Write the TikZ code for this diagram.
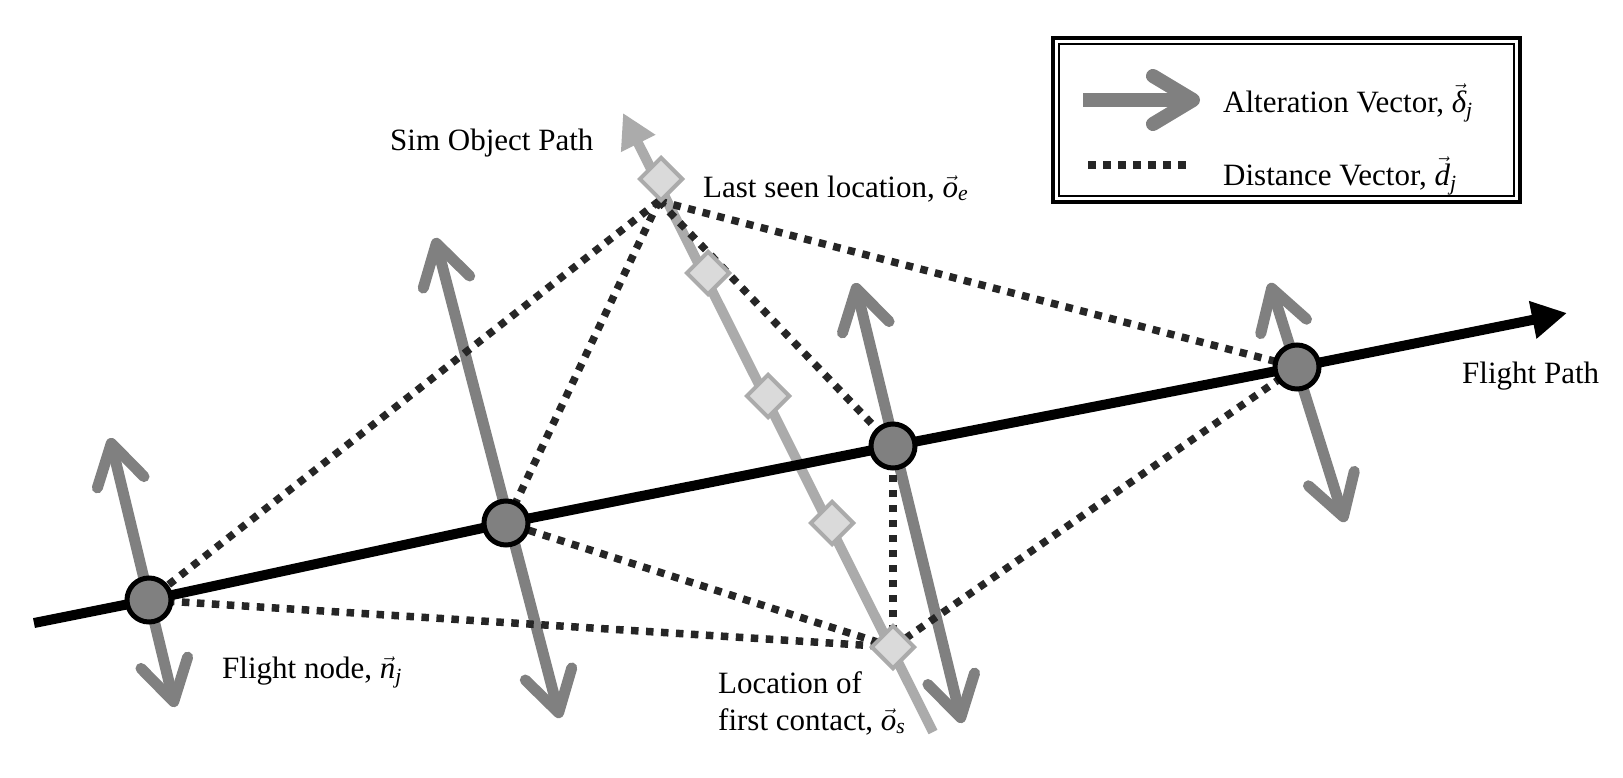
\documentclass[tikz,border=0pt]{standalone}
\usepackage{fontspec}
\usepackage{amsmath}
\setmainfont{Liberation Serif}
\usetikzlibrary{arrows.meta,shapes.geometric,calc}
\definecolor{altgray}{HTML}{808080}
\definecolor{simgray}{HTML}{ABABAB}
\definecolor{diafill}{HTML}{DADADA}
\definecolor{dotc}{HTML}{262626}
\newcommand{\myvec}[2]{$\vec{\textit{#1}}_{\textit{#2}}$}
\begin{document}
\begin{tikzpicture}[x=1pt,y=-1pt,
  fnode/.style={circle, fill=altgray, draw=black, line width=5pt, minimum size=44pt, inner sep=0pt},
  simdia/.style={diamond, fill=diafill, draw=simgray, line width=4pt, minimum size=44pt, inner sep=0pt},
  alter/.style={draw=altgray, line width=11pt, {Straight Barb[round,length=40pt,width=48pt]}-{Straight Barb[round,length=40pt,width=48pt]}},
  distv/.style={draw=dotc, line width=7.5pt, dash pattern=on 7.5pt off 7.5pt},
  lbl/.style={font=\fontsize{31}{37}\selectfont, inner sep=0pt, align=left}
]
\useasboundingbox (0,0) rectangle (1623,777);
\fill[white] (0,0) rectangle (1623,777);

% coordinates
\coordinate (n1) at (149,600);
\coordinate (n2) at (506,523);
\coordinate (n3) at (893,446);
\coordinate (n4) at (1297,367);
\coordinate (fstart) at (34,623);
\coordinate (fend) at (1567,313);
\coordinate (stop) at (623,113);
\coordinate (sbot) at (933,732);
\coordinate (a1t) at (110,438); \coordinate (a1b) at (175,707);
\coordinate (a2t) at (435,238); \coordinate (a2b) at (560,718);
\coordinate (a3t) at (855,283); \coordinate (a3b) at (962,723);
\coordinate (a4t) at (1270,283); \coordinate (a4b) at (1345,522);

% alteration vectors
\draw[alter] (a1t) -- (a1b);
\draw[alter] (a2t) -- (a2b);
\draw[alter] (a3t) -- (a3b);
\draw[alter] (a4t) -- (a4b);

% sim object path
\draw[simgray, line width=10pt, -{Triangle[length=34pt,width=36pt]}] (sbot) -- (stop);
\coordinate (d1) at (661,179);
\coordinate (d2) at (708,273);
\coordinate (d3) at (768,396);
\coordinate (d4) at (832,523);
\coordinate (d5) at (893,647);
\coordinate (oe) at (659,201);

% distance vectors
\draw[distv] (oe) -- (n1);
\draw[distv] (oe) -- (n2);
\draw[distv] (oe) -- (n3);
\draw[distv] (oe) -- (n4);
\draw[distv] (d5) -- (n1);
\draw[distv] (d5) -- (n2);
\draw[distv] (d5) -- (n3);
\draw[distv] (d5) -- (n4);

% flight path
\draw[black, line width=10pt, -{Triangle[length=35pt,width=36pt]}] (fstart) -- (n1) -- (n2) -- (n3) -- (n4) -- (fend);

% flight nodes
\node[fnode] (N1) at (n1) {};
\node[fnode] (N2) at (n2) {};
\node[fnode] (N3) at (n3) {};
\node[fnode] (N4) at (n4) {};

% sim object locations
\node[simdia] (D1) at (d1) {};
\node[simdia] (D2) at (d2) {};
\node[simdia] (D3) at (d3) {};
\node[simdia] (D4) at (d4) {};
\node[simdia] (D5) at (d5) {};

% labels
\node[lbl, anchor=base west] (lsim) at (390,150) {Sim Object Path};
\node[lbl, anchor=base west] (llast) at (703,197) {Last seen location, \myvec{o}{e}};
\node[lbl, anchor=base west] (lfp) at (1462,383) {Flight Path};
\node[lbl, anchor=base west] (lfn) at (222,678) {Flight node, \myvec{n}{j}};
\node[lbl, anchor=base west] (lloc) at (718,693) {Location of};
\node[lbl, anchor=base west] (lfirst) at (718,730) {first contact, \myvec{o}{s}};

% legend
\draw[line width=3.5pt] (1053,38) rectangle (1520,202);
\draw[line width=1.5pt] (1059,44) rectangle (1514,196);
\coordinate (la0) at (1083,100);
\coordinate (la1) at (1200,100);
\draw[altgray, line width=14pt, -{Straight Barb[round,length=40pt,width=48pt]}] (la0) -- (la1);
\coordinate (ld0) at (1088,165);
\coordinate (ld1) at (1186,165);
\draw[distv] (ld0) -- (ld1);
\node[lbl, anchor=base west] (lalt) at (1223,112) {Alteration Vector, \myvec{δ}{j}};
\node[lbl, anchor=base west] (ldist) at (1223,185) {Distance Vector, \myvec{d}{j}};
\end{tikzpicture}
\end{document}
